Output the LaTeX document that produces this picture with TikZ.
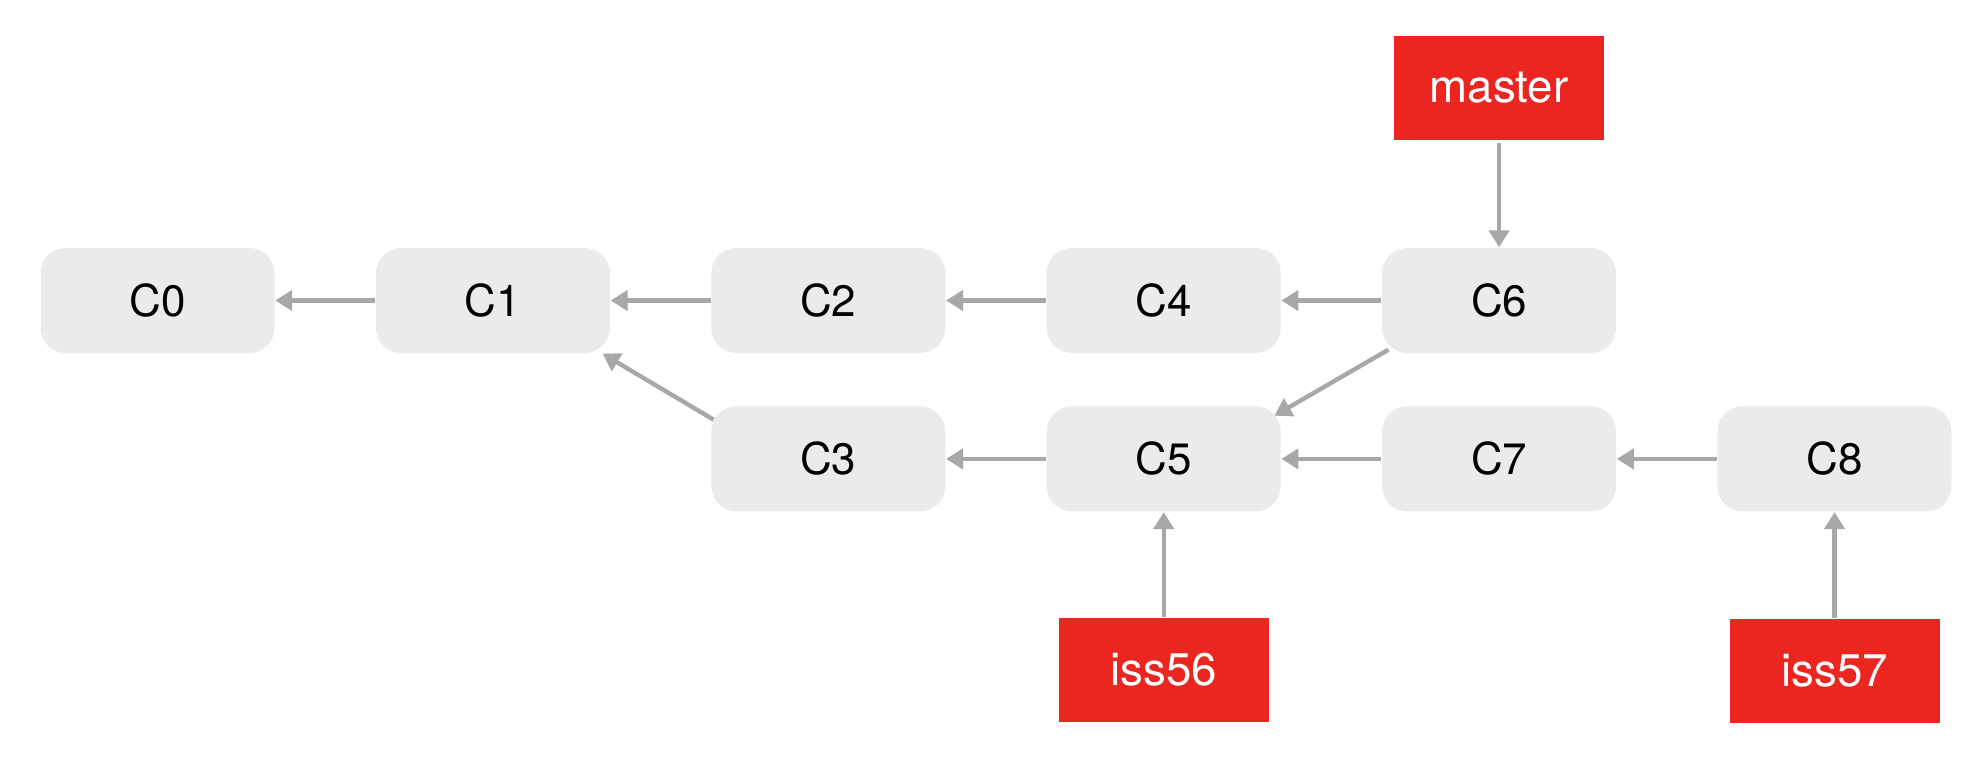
\documentclass[tikz,border=0pt]{standalone}
\usepackage{fontspec}
\setmainfont{TeX Gyre Heros}
\usetikzlibrary{arrows.meta,positioning}
\definecolor{commitgray}{HTML}{EBEBEB}
\definecolor{branchred}{HTML}{EB2620}
\definecolor{linkgray}{HTML}{A8A8A8}

\begin{document}
\begin{tikzpicture}[node distance=1cm,commit/.style={fill=commitgray, rounded corners=0.25cm, minimum width=2.34cm, minimum height=1.05cm, font=\fontsize{12.5}{14}\selectfont},branch/.style={fill=branchred, text=white, minimum width=2.1cm, minimum height=1.04cm, font=\fontsize{13}{15}\selectfont},link/.style={draw=linkgray, line width=1.25pt, -{Triangle[length=0.17cm,width=0.2cm]}},]
    \useasboundingbox (0,0) rectangle (19.76,-7.62);
    \node [commit] (c0) at (1.575,-3.005) {C0};
    \node [commit, right=of c0] (c1) {C1};
    \node [commit, right=of c1] (c2) {C2};
    \node [commit, right=of c2] (c4) {C4};
    \node [commit, right=of c4] (c6) {C6};
    \node [commit, below=0.52cm of c2] (c3) {C3};
    \node [commit, right=of c3] (c5) {C5};
    \node [commit, right=of c5] (c7) {C7};
    \node [commit, right=of c7] (c8) {C8};
    \node [branch, above=1.07cm of c6] (master) {master};
    \node [branch, below=1.05cm of c5] (iss56) {iss56};
    \node [branch, below=1.06cm of c8] (iss57) {iss57};
    \draw[link] (c1) -- (c0);
    \draw[link] (c2) -- (c1);
    \draw[link] (c4) -- (c2);
    \draw[link] (c6) -- (c4);
    \draw[link] (c5) -- (c3);
    \draw[link] (c7) -- (c5);
    \draw[link] (c8) -- (c7);
    \draw[link] ([shift={(0.03,-0.14)}]c3.north west) -- ([xshift=-0.08cm]c1.south east);
    \draw[link] ([shift={(0.07,0.04)}]c6.south west) -- ([shift={(-0.07,-0.1)}]c5.north east);
    \draw[link] ([yshift=-0.03cm]master.south) -- (c6);
    \draw[link] (iss56) -- (c5);
    \draw[link] (iss57) -- (c8);
\end{tikzpicture}
\end{document}
